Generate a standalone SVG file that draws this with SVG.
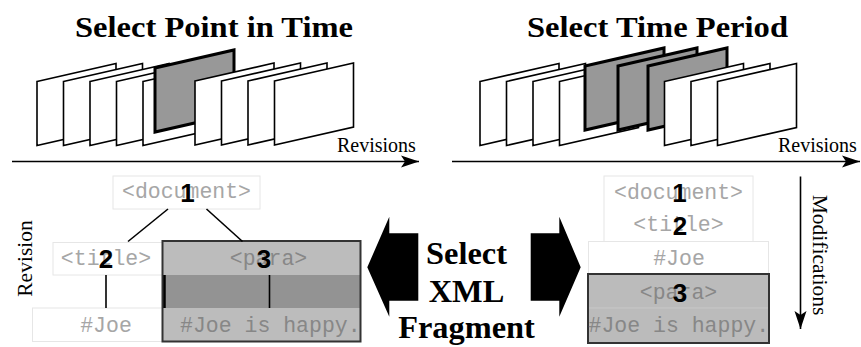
<svg xmlns="http://www.w3.org/2000/svg" xmlns:xlink="http://www.w3.org/1999/xlink" width="861" height="347" viewBox="0 0 861 347">
  <style>
    .title { font-family: "Liberation Serif", "Times New Roman", serif; font-weight: bold; font-size: 30px; fill: #000; }
    .big { font-family: "Liberation Serif", "Times New Roman", serif; font-weight: bold; font-size: 32.4px; fill: #000; text-anchor: middle; }
    .axis-label { font-family: "Liberation Serif", "Times New Roman", serif; font-size: 20px; fill: #000; }
    .sheet { fill: #fff; stroke: #000; stroke-width: 1.6; stroke-linejoin: miter; }
    .sheet-sel { fill: #989898; stroke: #000; stroke-width: 3; stroke-linejoin: miter; }
    .axis { stroke: #000; stroke-width: 1.6; fill: none; }
    .node-box { fill: #fff; stroke: #e6e6e6; stroke-width: 1; }
    .tag { font-family: "Liberation Mono", "Courier New", monospace; font-size: 21.5px; fill: #a6a6a6; }
    .tag-dim { font-family: "Liberation Mono", "Courier New", monospace; font-size: 21.5px; fill: #878787; }
    .num { font-family: "Liberation Sans", Arial, sans-serif; font-weight: bold; font-size: 26px; fill: #000; text-anchor: middle; }
    .edge { stroke: #000; stroke-width: 1.6; fill: none; }
    .frag { stroke: #333; stroke-width: 2; fill: none; }
  </style>
  <defs>
    <polygon id="pg" points="0,0 79,-18 79,46 0,64"/>
    <marker id="head" markerUnits="userSpaceOnUse" markerWidth="20" markerHeight="14" refX="18" refY="7" orient="auto" viewBox="0 0 20 14">
      <path d="M0,1 L18,7 L0,13 L4,7 Z" fill="#000"/>
    </marker>
  </defs>

  <!-- Left panel: one revision picked on the time line -->
  <g id="point-in-time">
    <text class="title" x="214" y="37" text-anchor="middle" textLength="278" lengthAdjust="spacingAndGlyphs">Select Point in Time</text>
    <use xlink:href="#pg" class="sheet" x="37" y="81.5"/>
    <use xlink:href="#pg" class="sheet" x="63.5" y="81.5"/>
    <use xlink:href="#pg" class="sheet" x="90" y="81.5"/>
    <use xlink:href="#pg" class="sheet" x="116.5" y="81.5"/>
    <use xlink:href="#pg" class="sheet" x="143" y="81.5"/>
    <use xlink:href="#pg" class="sheet-sel" x="155" y="68"/>
    <use xlink:href="#pg" class="sheet" x="195" y="81"/>
    <use xlink:href="#pg" class="sheet" x="221.5" y="81"/>
    <use xlink:href="#pg" class="sheet" x="248" y="81"/>
    <use xlink:href="#pg" class="sheet" x="274.5" y="81"/>
    <text class="axis-label" x="337" y="152">Revisions</text>
  </g>

  <!-- Right panel: a range of revisions picked -->
  <g id="time-period">
    <text class="title" x="657.5" y="37" text-anchor="middle" textLength="261" lengthAdjust="spacingAndGlyphs">Select Time Period</text>
    <use xlink:href="#pg" class="sheet" x="480" y="81.5"/>
    <use xlink:href="#pg" class="sheet" x="506.5" y="81.5"/>
    <use xlink:href="#pg" class="sheet" x="533" y="81.5"/>
    <use xlink:href="#pg" class="sheet" x="559.5" y="81.5"/>
    <use xlink:href="#pg" class="sheet-sel" x="585" y="66"/>
    <use xlink:href="#pg" class="sheet-sel" x="618" y="66"/>
    <use xlink:href="#pg" class="sheet-sel" x="648" y="66"/>
    <use xlink:href="#pg" class="sheet" x="664.5" y="81.5"/>
    <use xlink:href="#pg" class="sheet" x="691" y="81.5"/>
    <use xlink:href="#pg" class="sheet" x="717.5" y="81.5"/>
    <text class="axis-label" x="778" y="151.7">Revisions</text>
  </g>

  <!-- Tree view of one revision -->
  <g id="doc-node">
    <rect class="node-box" x="113" y="176" width="147" height="33"/>
    <text class="tag" x="186.5" y="198" text-anchor="middle">&lt;document&gt;</text>
    <text class="num" x="187.5" y="201.5">1</text>
  </g>
  <g id="title-node">
    <rect class="node-box" x="53" y="242.5" width="110" height="32.5"/>
    <text class="tag" x="106" y="265" text-anchor="middle">&lt;title&gt;</text>
    <text class="num" x="106" y="267.5">2</text>
  </g>
  <g id="joe-node">
    <rect class="node-box" x="32.5" y="308" width="130" height="33.5"/>
    <text class="tag" x="106" y="331.5" text-anchor="middle">#Joe</text>
  </g>
  <g id="para-fragment">
    <rect x="162.5" y="241" width="198" height="34" fill="#bcbcbc"/>
    <rect x="162.5" y="275" width="198" height="33" fill="#939393"/>
    <rect x="162.5" y="308" width="198" height="33.5" fill="#bcbcbc"/>
    <rect class="frag" x="162.5" y="241" width="198" height="100.5"/>
    <line x1="164.5" y1="275" x2="164.5" y2="308" stroke="#000" stroke-width="2.5"/>
    <text class="tag-dim" x="268.5" y="265" text-anchor="middle">&lt;para&gt;</text>
    <text class="num" x="264" y="267.5">3</text>
    <text class="tag-dim" x="180" y="331.5">#Joe is happy.</text>
  </g>
  <g id="tree-edges">
    <line class="edge" x1="168" y1="209" x2="128" y2="241.5"/>
    <line class="edge" x1="206.5" y1="209" x2="242.5" y2="241.5"/>
    <line class="edge" x1="106" y1="275" x2="106" y2="308"/>
    <line class="edge" x1="269.5" y1="275" x2="269.5" y2="308"/>
  </g>
  <text class="axis-label" transform="translate(31.5,258.5) rotate(-90)" text-anchor="middle" style="font-size:21.5px">Revision</text>

  <!-- Stacked view along modifications -->
  <g id="doc-title-block">
    <rect class="node-box" x="604" y="176" width="149" height="65.5"/>
    <text class="tag" x="678.5" y="198.5" text-anchor="middle">&lt;document&gt;</text>
    <text class="num" x="679.5" y="201.5">1</text>
    <text class="tag" x="678.5" y="230.5" text-anchor="middle">&lt;title&gt;</text>
    <text class="num" x="680" y="234.5">2</text>
  </g>
  <g id="joe-block">
    <rect class="node-box" x="588.5" y="241.5" width="180" height="32.5"/>
    <text class="tag" x="679" y="265" text-anchor="middle">#Joe</text>
  </g>
  <g id="para-block">
    <rect x="588" y="274" width="181" height="69" fill="#bbbbbb"/>
    <line x1="589" y1="308" x2="768" y2="308" stroke="#c8c8c8" stroke-width="1"/>
    <rect class="frag" x="588" y="274" width="181" height="69"/>
    <text class="tag-dim" x="678.5" y="298.5" text-anchor="middle">&lt;para&gt;</text>
    <text class="num" x="680" y="301.5">3</text>
    <text class="tag-dim" x="588.5" y="331.5">#Joe is happy.</text>
  </g>
  <text class="axis-label" transform="translate(813,255) rotate(90)" text-anchor="middle" style="font-size:21.5px">Modifications</text>

  <!-- Central caption with block arrows -->
  <g id="select-fragment">
    <polygon points="367.3,267.3 389.3,216.7 389.3,233.3 418.3,233.3 418.3,300.7 389.3,300.7 389.3,316.7" fill="#000"/>
    <polygon points="580.7,267.3 559.3,216.7 559.3,233.3 530.7,233.3 530.7,300.7 559.3,300.7 559.3,316.7" fill="#000"/>
    <text class="big" x="466.5" y="263.5">Select</text>
    <text class="big" x="466.5" y="301.5">XML</text>
    <text class="big" x="466.5" y="338">Fragment</text>
  </g>

  <!-- Axes -->
  <g id="axes">
    <line class="axis" x1="12" y1="161.5" x2="419" y2="161.5" marker-end="url(#head)"/>
    <line class="axis" x1="452" y1="161.5" x2="860" y2="161.5" marker-end="url(#head)"/>
    <line class="axis" x1="800.5" y1="176.5" x2="800.5" y2="329" marker-end="url(#head)"/>
  </g>
</svg>
